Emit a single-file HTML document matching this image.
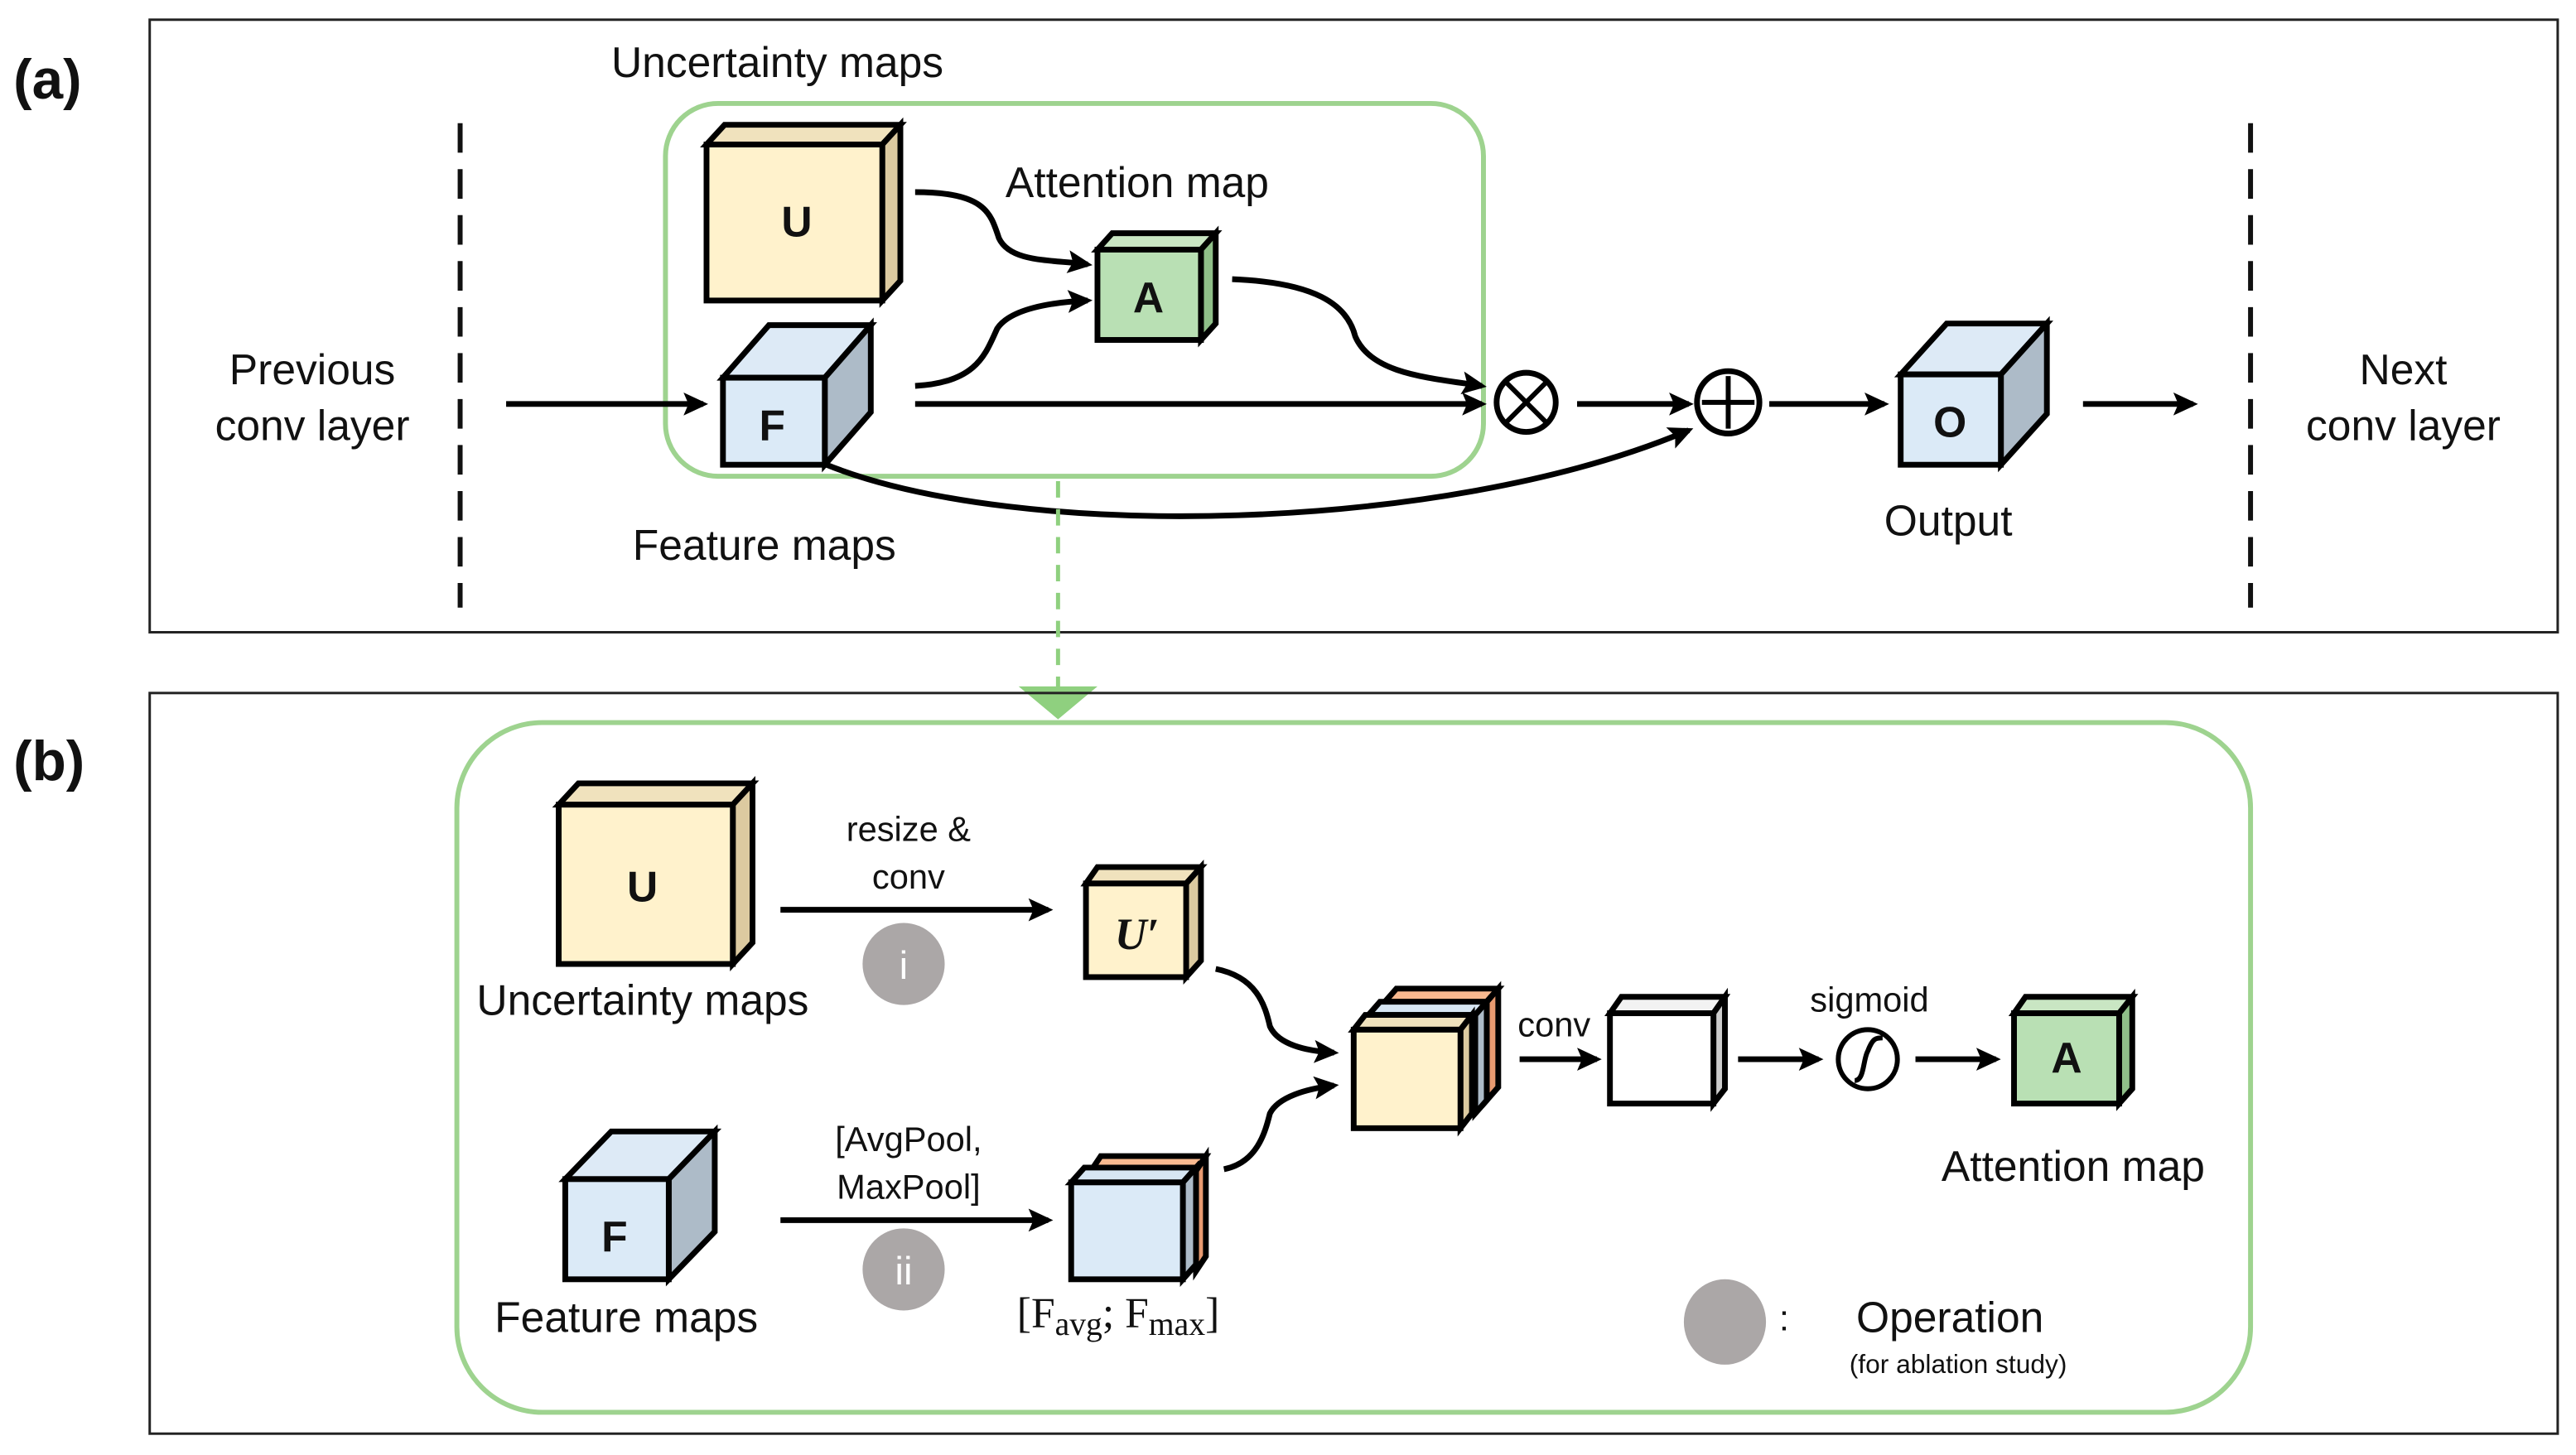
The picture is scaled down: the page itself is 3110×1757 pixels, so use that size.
<!DOCTYPE html>
<html><head><meta charset="utf-8"><style>
html,body{margin:0;padding:0;background:#fff;}
svg{display:block;}
text{font-family:"Liberation Sans",sans-serif;fill:#111;}
</style></head><body>
<svg width="3110" height="1757" viewBox="0 0 1568 886" xmlns="http://www.w3.org/2000/svg">
<defs>
<marker id="ah2" markerWidth="16" markerHeight="16" refX="12" refY="8" orient="auto" markerUnits="userSpaceOnUse">
<path d="M0,1 L15,8 L0,15 L3,8 Z" fill="#000"/>
</marker>
</defs>
<rect width="1568" height="886" fill="#fff"/>

<!-- (a) -->
<rect x="91" y="12" width="1466" height="373" fill="none" stroke="#222" stroke-width="1.5"/>
<text x="8" y="60" font-size="34" font-weight="bold">(a)</text>
<line x1="280" y1="75" x2="280" y2="370" stroke="#111" stroke-width="3" stroke-dasharray="18,10"/>
<line x1="1370" y1="75" x2="1370" y2="370" stroke="#111" stroke-width="3" stroke-dasharray="18,10"/>
<text x="190" y="234" font-size="26" text-anchor="middle">Previous</text>
<text x="190" y="268" font-size="26" text-anchor="middle">conv layer</text>
<text x="1463" y="234" font-size="26" text-anchor="middle">Next</text>
<text x="1463" y="268" font-size="26" text-anchor="middle">conv layer</text>
<rect x="405" y="63" width="498" height="227" rx="32" fill="none" stroke="#9ed38f" stroke-width="3"/>
<text x="372" y="47" font-size="26">Uncertainty maps</text>
<text x="612" y="120" font-size="26">Attention map</text>
<text x="385" y="341" font-size="26">Feature maps</text>
<text x="1186" y="326" font-size="26" text-anchor="middle">Output</text>

<g stroke="#000" stroke-width="3.5" stroke-linejoin="miter">
<polygon points="430,88 441,76 548,76 537,88" fill="#f0e2bd"/>
<polygon points="537,88 548,76 548,171 537,183" fill="#dccaa0"/>
<rect x="430" y="88" width="107" height="95" fill="#fff2cc"/>
<polygon points="440,230 468,198 530,198 502,230" fill="#ddeaf6"/>
<polygon points="502,230 530,198 530,251 502,283" fill="#adbbc8"/>
<rect x="440" y="230" width="62" height="53" fill="#dbeaf7"/>
<polygon points="668,152 677,142 740,142 731,152" fill="#c9e6c3"/>
<polygon points="731,152 740,142 740,197 731,207" fill="#8fbf88"/>
<rect x="668" y="152" width="63" height="55" fill="#b9e0b4"/>
<polygon points="1157,228 1185,197 1246,197 1218,228" fill="#ddeaf6"/>
<polygon points="1218,228 1246,197 1246,252 1218,283" fill="#adbbc8"/>
<rect x="1157" y="228" width="61" height="55" fill="#dbeaf7"/>
</g>
<text x="485" y="144" font-size="26" font-weight="bold" text-anchor="middle">U</text>
<text x="470" y="268" font-size="26" font-weight="bold" text-anchor="middle">F</text>
<text x="699" y="190" font-size="26" font-weight="bold" text-anchor="middle">A</text>
<text x="1187" y="266" font-size="26" font-weight="bold" text-anchor="middle">O</text>

<g fill="none" stroke="#000" stroke-width="3.5">
<path d="M308,246 L428,246" marker-end="url(#ah2)"/>
<path d="M557,117 C600,117 603,130 608,145 C615,160 640,158 662,161" marker-end="url(#ah2)"/>
<path d="M557,235 C595,233 600,215 607,200 C615,188 640,184 662,183" marker-end="url(#ah2)"/>
<path d="M750,170 C800,172 820,185 825,205 C835,228 870,230 902,235" marker-end="url(#ah2)"/>
<path d="M557,246 L902,246" marker-end="url(#ah2)"/>
<path d="M503,283 C620,330 880,325 1028,262" marker-end="url(#ah2)"/>
<path d="M960,246 L1028,246" marker-end="url(#ah2)"/>
<path d="M1077,246 L1147,246" marker-end="url(#ah2)"/>
<path d="M1268,246 L1335,246" marker-end="url(#ah2)"/>
<circle cx="929" cy="245" r="18"/>
<path d="M916,232 L942,258 M942,232 L916,258" stroke-width="3"/>
<circle cx="1052" cy="245" r="19"/>
<path d="M1052,229 L1052,261 M1036,245 L1068,245" stroke-width="3"/>
</g>
<line x1="644" y1="293" x2="644" y2="420" stroke="#8fd07f" stroke-width="2.5" stroke-dasharray="10,7"/>
<polygon points="620,418 668,418 644,438" fill="#8fd07f"/>

<!-- (b) -->
<rect x="91" y="422" width="1466" height="451" fill="none" stroke="#222" stroke-width="1.5"/>
<text x="8" y="475" font-size="34" font-weight="bold">(b)</text>
<rect x="278" y="440" width="1092" height="420" rx="52" fill="none" stroke="#9ed38f" stroke-width="3"/>

<g stroke="#000" stroke-width="3.5">
<polygon points="340,490 352,477 458,477 446,490" fill="#f0e2bd"/>
<polygon points="446,490 458,477 458,574 446,587" fill="#dccaa0"/>
<rect x="340" y="490" width="106" height="97" fill="#fff2cc"/>
<polygon points="344,718 372,689 435,689 407,718" fill="#ddeaf6"/>
<polygon points="407,718 435,689 435,750 407,779" fill="#adbbc8"/>
<rect x="344" y="718" width="63" height="61" fill="#dbeaf7"/>
<polygon points="661,538 668,528 731,528 722,538" fill="#f0e2bd"/>
<polygon points="722,538 731,528 731,585 722,595" fill="#dccaa0"/>
<rect x="661" y="538" width="61" height="57" fill="#fff2cc"/>
<polygon points="664,713 670,704 734,704 728,713" fill="#f8b98f"/>
<polygon points="728,713 734,704 734,765 728,774" fill="#e89a70"/>
<polygon points="652,720 660,711 728,711 720,720" fill="#d7e6f3"/>
<polygon points="720,720 728,711 728,770 720,779" fill="#adbbc8"/>
<rect x="652" y="720" width="68" height="59" fill="#dbeaf7"/>
<polygon points="843,610 850,602 912,602 905,610" fill="#f8b98f"/>
<polygon points="905,610 912,602 912,662 905,670" fill="#e89a70"/>
<polygon points="833,618 840,610 905,610 898,618" fill="#d7e6f3"/>
<polygon points="898,618 905,610 905,670 898,678" fill="#adbbc8"/>
<polygon points="824,627 831,618 896,618 889,627" fill="#f0e2bd"/>
<polygon points="889,627 896,618 896,678 889,687" fill="#dccaa0"/>
<rect x="824" y="627" width="65" height="60" fill="#fff2cc"/>
<polygon points="980,617 987,607 1050,607 1043,617" fill="#f2f2f2"/>
<polygon points="1043,617 1050,607 1050,663 1043,672" fill="#ccc"/>
<rect x="980" y="617" width="63" height="55" fill="#fff"/>
<polygon points="1226,617 1233,607 1298,607 1290,617" fill="#c9e6c3"/>
<polygon points="1290,617 1298,607 1298,663 1290,672" fill="#8fbf88"/>
<rect x="1226" y="617" width="64" height="55" fill="#b9e0b4"/>
</g>
<text x="391" y="549" font-size="26" font-weight="bold" text-anchor="middle">U</text>
<text x="374" y="762" font-size="26" font-weight="bold" text-anchor="middle">F</text>
<text x="692" y="578" text-anchor="middle" style="font-family:'Liberation Serif',serif;font-size:27px;font-weight:bold;font-style:italic;">U′</text>
<text x="1258" y="653" font-size="26" font-weight="bold" text-anchor="middle">A</text>
<text x="290" y="618" font-size="26">Uncertainty maps</text>
<text x="301" y="811" font-size="26">Feature maps</text>
<text x="1262" y="719" font-size="26" text-anchor="middle">Attention map</text>
<text x="553" y="512" font-size="21" text-anchor="middle">resize &amp;</text>
<text x="553" y="541" font-size="21" text-anchor="middle">conv</text>
<text x="553" y="701" font-size="21" text-anchor="middle">[AvgPool,</text>
<text x="553" y="730" font-size="21" text-anchor="middle">MaxPool]</text>
<text x="946" y="631" font-size="21" text-anchor="middle">conv</text>
<text x="1138" y="616" font-size="21" text-anchor="middle">sigmoid</text>
<text x="619" y="808" style="font-family:'Liberation Serif',serif;font-size:26px;">[F<tspan style="font-size:20px" dy="5">avg</tspan><tspan dy="-5">; F</tspan><tspan style="font-size:20px" dy="5">max</tspan><tspan dy="-5">]</tspan></text>

<circle cx="550" cy="587" r="25" fill="#aba7a7"/>
<text x="550" y="596" font-size="24" text-anchor="middle" style="fill:#fff">i</text>
<circle cx="550" cy="773" r="25" fill="#aba7a7"/>
<text x="550" y="782" font-size="24" text-anchor="middle" style="fill:#fff">ii</text>
<ellipse cx="1050" cy="805" rx="25" ry="26" fill="#aba7a7"/>
<text x="1083" y="810" font-size="22">:</text>
<text x="1187" y="811" font-size="26" text-anchor="middle">Operation</text>
<text x="1192" y="836" font-size="16" text-anchor="middle">(for ablation study)</text>

<g fill="none" stroke="#000" stroke-width="3.5">
<path d="M475,554 L638,554" marker-end="url(#ah2)"/>
<path d="M475,743 L638,743" marker-end="url(#ah2)"/>
<path d="M740,590 C765,595 770,612 773,625 C778,636 795,640 812,641" marker-end="url(#ah2)"/>
<path d="M745,712 C765,708 770,690 773,678 C778,668 795,663 812,661" marker-end="url(#ah2)"/>
<path d="M925,645 L972,645" marker-end="url(#ah2)"/>
<path d="M1058,645 L1107,645" marker-end="url(#ah2)"/>
<path d="M1166,645 L1215,645" marker-end="url(#ah2)"/>
<circle cx="1137" cy="645" r="18" stroke-width="3"/>
<path d="M1129,658 C1135,658 1134,645 1137,640 C1140,632 1142,632 1146,632" stroke-width="3"/>
</g>
</svg>
</body></html>
